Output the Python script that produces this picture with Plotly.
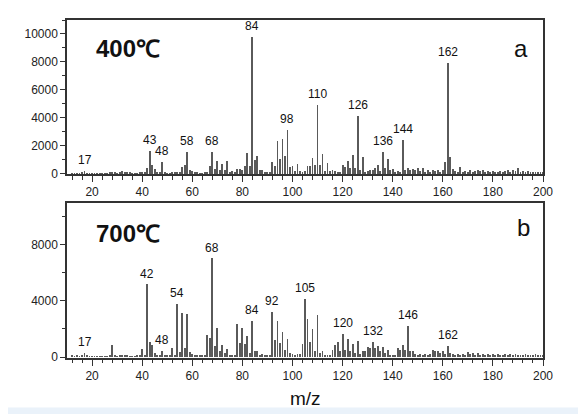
import plotly.graph_objects as go
from plotly.subplots import make_subplots

# m/z axis, one bar per integer mass
mz = list(range(12, 201))

# 400 C spectrum (panel a), intensities for m/z 12..200
int_400 = [
    50, 40, 60, 50, 80, 230, 60, 40, 30, 30,
    40, 30, 40, 40, 60, 80, 120, 80, 60, 150,
    180, 120, 160, 80, 50, 40, 50, 80, 90, 150,
    430, 1610, 660, 380, 120, 80, 830, 100, 60, 60,
    80, 70, 120, 150, 500, 660, 1560, 300, 240, 120,
    100, 60, 60, 80, 150, 560, 1540, 350, 950, 300,
    710, 250, 950, 120, 200, 100, 370, 350, 300, 590,
    1520, 540, 9820, 1000, 1300, 280, 250, 120, 80, 100,
    880, 590, 2330, 1070, 2520, 1300, 3140, 500, 540, 200,
    680, 200, 150, 200, 570, 570, 1160, 620, 4950, 620,
    1450, 200, 810, 200, 300, 200, 150, 120, 660, 500,
    900, 400, 1380, 400, 4110, 300, 1230, 100, 200, 300,
    250, 400, 640, 200, 1570, 400, 1050, 300, 350, 120,
    200, 150, 2430, 250, 400, 300, 350, 250, 400, 200,
    400, 150, 250, 150, 250, 200, 250, 150, 300, 850,
    7900, 1200, 380, 200, 150, 520, 150, 200, 150, 250,
    150, 200, 250, 200, 250, 150, 200, 150, 200, 150,
    150, 200, 150, 200, 250, 150, 250, 200, 400, 150,
    200, 150, 200, 150, 150, 120, 150, 120, 150,
]

# 700 C spectrum (panel b), intensities for m/z 12..200
int_700 = [
    60, 50, 60, 50, 80, 280, 60, 40, 30, 30,
    30, 30, 40, 30, 50, 60, 870, 60, 40, 120,
    100, 130, 80, 50, 40, 40, 60, 80, 570, 150,
    5150, 1040, 850, 300, 100, 60, 420, 80, 100, 120,
    610, 150, 3760, 330, 3120, 590, 3070, 330, 200, 100,
    100, 100, 80, 100, 1580, 1350, 7000, 800, 2060, 400,
    870, 300, 520, 150, 150, 150, 2360, 1000, 2060, 900,
    1510, 300, 2530, 400, 430, 150, 200, 150, 100, 150,
    3190, 1200, 2530, 1000, 1770, 450, 1230, 300, 200, 150,
    200, 200, 940, 4140, 2720, 1060, 2010, 400, 2980, 300,
    400, 150, 150, 150, 450, 820, 1060, 400, 1650, 500,
    1280, 400, 940, 300, 1100, 200, 400, 400, 700, 650,
    1060, 600, 800, 400, 700, 300, 500, 150, 150, 150,
    600, 450, 850, 500, 2200, 400, 400, 200, 150, 200,
    150, 200, 150, 200, 500, 400, 400, 300, 400, 200,
    800, 300, 200, 150, 200, 150, 200, 150, 350, 200,
    250, 150, 250, 150, 200, 150, 200, 150, 200, 150,
    200, 150, 150, 200, 150, 200, 150, 200, 150, 150,
    150, 200, 150, 150, 150, 200, 150, 150, 150,
]

# labelled peaks
peaks_400 = [17, 43, 48, 58, 68, 84, 98, 110, 126, 136, 144, 162]
peaks_700 = [17, 42, 48, 54, 68, 84, 92, 105, 120, 132, 146, 162]

BAR_COLOR = '#5a5a5a'
AXIS_COLOR = '#333333'
FONT = 'Arial, Liberation Sans, sans-serif'

fig = make_subplots(rows=2, cols=1)

fig.add_trace(go.Bar(x=mz, y=int_400, width=0.35, marker=dict(color=BAR_COLOR, line=dict(width=0)),
                     showlegend=False), row=1, col=1)
fig.add_trace(go.Bar(x=mz, y=int_700, width=0.35, marker=dict(color=BAR_COLOR, line=dict(width=0)),
                     showlegend=False), row=2, col=1)

# peak labels
for peaks, ints, ax in [(peaks_400, int_400, ''), (peaks_700, int_700, '2')]:
    for p in peaks:
        fig.add_annotation(x=p, y=ints[mz.index(p)], xref='x' + ax, yref='y' + ax,
                           text=str(p), showarrow=False, yanchor='bottom', yshift=2,
                           font=dict(family=FONT, size=12, color='#111'))

# panel titles
panel_text = [
    ('400℃', 'x domain', 'y domain', 0.056, 0.817, 'left', True),
    ('a', 'x domain', 'y domain', 0.953, 0.817, 'center', False),
    ('700℃', 'x2 domain', 'y2 domain', 0.056, 0.804, 'left', True),
    ('b', 'x2 domain', 'y2 domain', 0.9595, 0.845, 'center', False),
]
for txt, xr, yr, px, py, xa, bold in panel_text:
    fig.add_annotation(x=px, y=py, xref=xr, yref=yr, text=f'<b>{txt}</b>' if bold else txt,
                       showarrow=False, xanchor=xa, yanchor='middle',
                       font=dict(family=FONT, size=24, color='#111'))

# x axis title
fig.add_annotation(x=0.5, y=-0.12, xref='paper', yref='paper', text='m/z', showarrow=False,
                   xanchor='center', yanchor='middle', font=dict(family=FONT, size=19, color='#111'))

# light strip at the bottom of the picture
fig.add_shape(type='rect', xref='paper', yref='paper', x0=-0.2, x1=1.2, y0=-0.1468, y1=-0.25,
              fillcolor='#eaf2fa', line=dict(width=0), layer='below')

axis_common = dict(showline=True, linecolor=AXIS_COLOR, linewidth=1.5, mirror=True, automargin=False,
                   showgrid=False, zeroline=False, ticks='outside', tickcolor=AXIS_COLOR,
                   tickfont=dict(family=FONT, size=12, color='#222'))

fig.update_xaxes(range=[10, 200], tick0=0, dtick=20, ticklen=6, tickwidth=1.2,
                 minor=dict(dtick=4, tick0=0, ticks='outside', ticklen=3.5, tickcolor=AXIS_COLOR, tickwidth=1),
                 **axis_common)
fig.update_yaxes(ticklen=5, tickwidth=1.2, tickformat='d', **axis_common)

# margins offset by the 8px page margin around the plot div
fig.update_layout(
    width=586, height=414,
    margin=dict(l=59, r=51, t=12, b=64),
    plot_bgcolor='white', paper_bgcolor='white',
    bargap=0,
    yaxis=dict(domain=[0.5434, 1], range=[-30, 11000], tick0=0, dtick=2000,
               minor=dict(dtick=1000, ticks='outside', ticklen=3, tickcolor=AXIS_COLOR, tickwidth=1)),
    yaxis2=dict(domain=[0, 0.4578], range=[-70, 10950], tick0=0, dtick=4000,
                minor=dict(dtick=2000, ticks='outside', ticklen=3, tickcolor=AXIS_COLOR, tickwidth=1)),
)

fig.write_html("out.html")
